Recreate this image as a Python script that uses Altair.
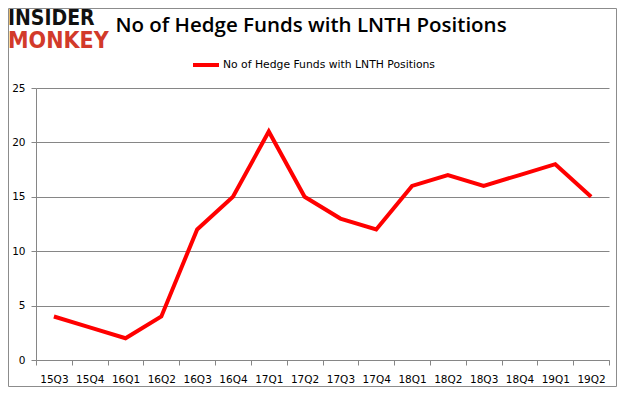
import altair as alt
import pandas as pd

quarters = ["15Q3", "15Q4", "16Q1", "16Q2", "16Q3", "16Q4", "17Q1", "17Q2",
            "17Q3", "17Q4", "18Q1", "18Q2", "18Q3", "18Q4", "19Q1", "19Q2"]
funds = [4, 3, 2, 4, 12, 15, 21, 15, 13, 12, 16, 17, 16, 17, 18, 15]
series_name = "No of Hedge Funds with LNTH Positions"
title_text = "No of Hedge Funds with LNTH Positions"
y_ticks = [0, 5, 10, 15, 20, 25]

df = pd.DataFrame({"quarter": quarters, "funds": funds, "series": series_name})

W, H = 573, 272

line = alt.Chart(df).mark_line(strokeWidth=4, strokeJoin="miter").encode(
    x=alt.X("quarter:N", sort=quarters, bandPosition=0.5,
            scale=alt.Scale(type="band", paddingInner=0, paddingOuter=0),
            axis=alt.Axis(title=None, labelAngle=0, tickBand="extent", grid=False,
                          domainColor="#868686", tickColor="#868686", tickSize=5,
                          labelFont="DejaVu Sans", labelFontSize=10.5, labelColor="#000000",
                          labelPadding=9)),
    y=alt.Y("funds:Q", scale=alt.Scale(domain=[0, 25], nice=False),
            axis=alt.Axis(title=None, values=y_ticks, grid=True, gridColor="#868686",
                          domainColor="#868686", tickColor="#868686", tickSize=5,
                          labelFont="DejaVu Sans", labelFontSize=10.5, labelColor="#000000",
                          labelPadding=6)),
    color=alt.Color("series:N", scale=alt.Scale(domain=[series_name], range=["#ff0000"]),
                    legend=alt.Legend(title=None, orient="none", legendX=155, legendY=-38,
                                      symbolType="stroke", symbolStrokeWidth=4, symbolSize=676,
                                      labelFont="DejaVu Sans", labelFontSize=10.8, labelLimit=0,
                                      labelColor="#000000", labelOffset=2)),
)

logo1 = alt.Chart(pd.DataFrame({"t": ["INSIDER"]})).mark_text(
    font="DejaVu Sans Condensed", fontSize=21, fontWeight="bold", align="left",
    baseline="alphabetic", color="#111111").encode(
    text="t:N", x=alt.value(-28), y=alt.value(-63))
logo2 = alt.Chart(pd.DataFrame({"t": ["MONKEY"]})).mark_text(
    font="DejaVu Sans Condensed", fontSize=23, fontWeight="bold", align="left",
    baseline="alphabetic", color="#d23a2a").encode(
    text="t:N", x=alt.value(-28), y=alt.value(-40))

title = alt.Chart(pd.DataFrame({"t": [title_text]})).mark_text(
    font="Open Sans", fontSize=20.5, fontWeight=600, align="center",
    baseline="alphabetic", color="#000000").encode(
    text="t:N", x=alt.value(275), y=alt.value(-56))

border = alt.Chart(pd.DataFrame({"a": [0]})).mark_rect(
    fill="transparent", stroke="#8c8c8c", strokeWidth=1).encode(
    x=alt.value(-27.5), x2=alt.value(W + 7.5), y=alt.value(-79.5), y2=alt.value(H + 26.5))

chart = alt.layer(border, line, logo1, logo2, title).properties(
    width=W, height=H,
    autosize=alt.AutoSizeParams(type="none"),
    padding={"left": 28, "top": 80, "right": 8, "bottom": 27},
).configure_view(stroke=None)

chart.save("out.html", embed_options={"renderer": "svg", "actions": False})
